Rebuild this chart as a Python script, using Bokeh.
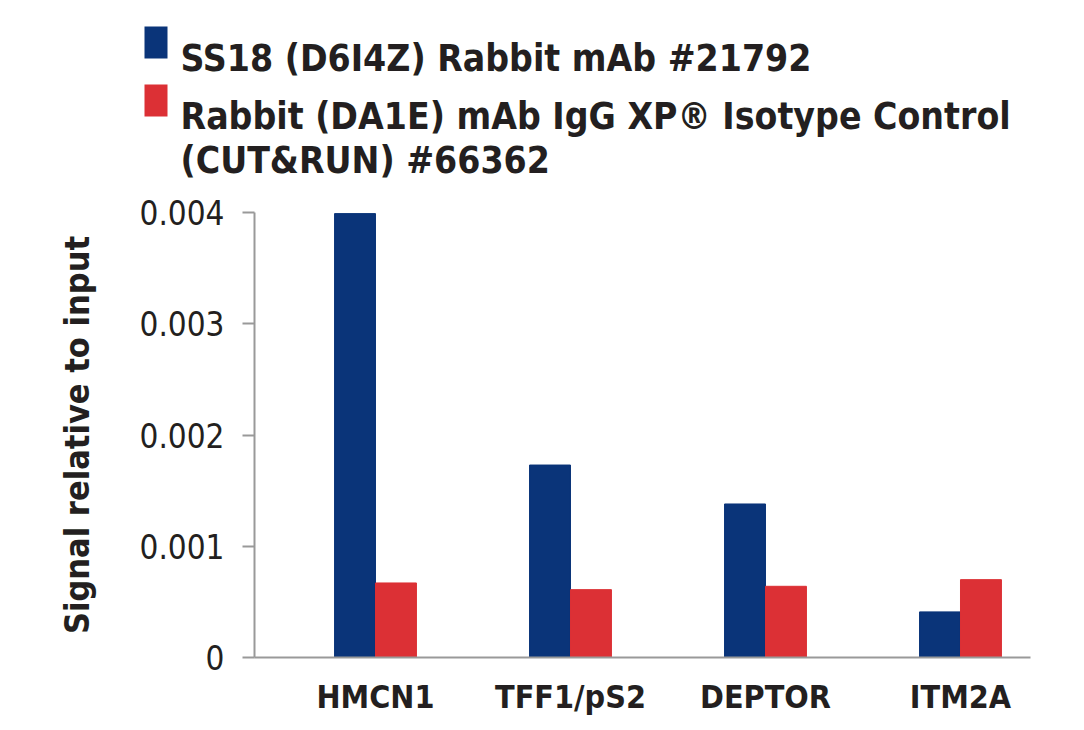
from bokeh.plotting import figure
from bokeh.layouts import column
from bokeh.models import Range1d, FixedTicker, ColumnDataSource
from bokeh.core.properties import value
from bokeh.transform import dodge
from bokeh.embed import file_html
from bokeh.resources import INLINE

genes = ["HMCN1", "TFF1/pS2", "DEPTOR", "ITM2A"]
ss18 = [0.00399, 0.00173, 0.00138, 0.00041]
igg = [0.00067, 0.00061, 0.00064, 0.00070]
series_labels = ["SS18 (D6I4Z) Rabbit mAb #21792",
                 "Rabbit (DA1E) mAb IgG XP\u00ae Isotype Control\n(CUT&RUN) #66362"]
y_ticks = [0, 0.001, 0.002, 0.003, 0.004]
y_tick_labels = ["0", "0.001", "0.002", "0.003", "0.004"]
y_title = "Signal relative to input"

BLUE = "#0a3479"
RED = "#dc3035"
GRAY = "#999999"
TXT = "#231f20"
FONT = "DejaVu Sans Condensed"

W, H = 1080, 728
LEG_H = 185

# ---------------- legend strip ----------------
leg = figure(width=W, height=LEG_H, x_range=Range1d(0, W), y_range=Range1d(LEG_H, 0),
             x_axis_type=None, y_axis_type=None, output_backend="svg",
             toolbar_location=None, min_border=0,
             min_border_left=0, min_border_right=0, min_border_top=0, min_border_bottom=0)
leg.frame_align = False
leg.grid.visible = False
leg.outline_line_color = None
sq_colors = [BLUE, RED]
sq_tops = [26, 84]
line_gap = 44
for lab, col, top in zip(series_labels, sq_colors, sq_tops):
    leg.quad(left=[144], right=[167], top=[top], bottom=[top + 32],
             fill_color=col, line_color=None)
    for k, line in enumerate(lab.split("\n")):
        leg.text(x=[180], y=[top + 32 + k * line_gap], text=[line],
                 text_font=value(FONT), text_font_style="bold",
                 text_font_size="37px", text_color=TXT,
                 text_baseline="alphabetic", text_align="left")

# ---------------- main chart ----------------
src = ColumnDataSource(dict(x=list(range(len(genes))), ss18=ss18, igg=igg))

p = figure(width=W, height=H - LEG_H,
           x_range=Range1d(-0.6205, 3.359), y_range=Range1d(0, 0.004),
           output_backend="svg", toolbar_location=None,
           min_border_left=254, min_border_right=50,
           min_border_top=27, min_border_bottom=71)
p.frame_align = False

p.vbar(x=dodge("x", -0.105, range=p.x_range), top="ss18", width=0.21, source=src,
       fill_color=BLUE, line_color=BLUE)
p.vbar(x=dodge("x", 0.105, range=p.x_range), top="igg", width=0.21, source=src,
       fill_color=RED, line_color=RED)

p.grid.visible = False
p.outline_line_color = None

ya = p.yaxis[0]
ya.ticker = FixedTicker(ticks=y_ticks)
ya.major_label_overrides = {t: l for t, l in zip(y_ticks, y_tick_labels)}
ya.minor_tick_line_color = None
ya.axis_line_color = GRAY
ya.axis_line_width = 2
ya.major_tick_line_color = GRAY
ya.major_tick_line_width = 2
ya.major_tick_out = 12
ya.major_tick_in = 0
ya.major_label_standoff = 18
ya.major_label_text_font = FONT
ya.major_label_text_font_size = "33px"
ya.major_label_text_color = TXT
ya.axis_label = y_title
ya.axis_label_text_font = FONT
ya.axis_label_text_font_style = "bold"
ya.axis_label_text_font_size = "34px"
ya.axis_label_text_color = TXT
ya.axis_label_standoff = 40

xa = p.xaxis[0]
xa.ticker = FixedTicker(ticks=list(range(len(genes))))
xa.major_label_overrides = {i: g for i, g in enumerate(genes)}
xa.minor_tick_line_color = None
xa.major_tick_line_color = None
xa.major_tick_out = 0
xa.major_tick_in = 0
xa.axis_line_color = GRAY
xa.axis_line_width = 2
xa.major_label_standoff = 20
xa.major_label_text_font = FONT
xa.major_label_text_font_style = "bold"
xa.major_label_text_font_size = "32px"
xa.major_label_text_color = TXT

layout = column(leg, p, spacing=0)
open("out.html", "w").write(file_html(layout, INLINE))
